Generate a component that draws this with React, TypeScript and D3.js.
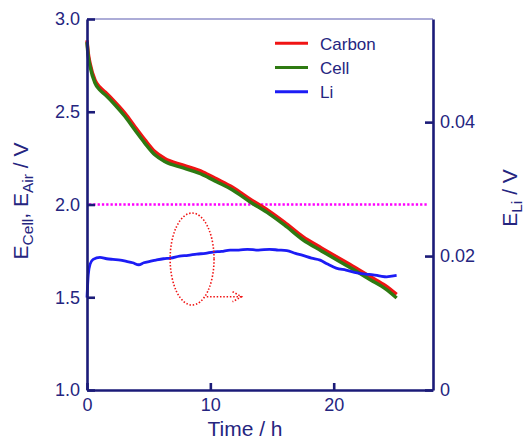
import React, { useEffect, useRef } from 'react'
import * as d3 from 'd3'

const width = 525
const height = 441
const margin = { top: 19, right: 92, bottom: 51, left: 87 }

// time axis (h) for the Carbon / Cell curves
const timeH = [0, 0.1, 0.25, 0.65, 1.0, 1.5, 2.3, 3.1, 3.9, 4.7, 5.5, 6.3, 7.8, 9.4, 10.5, 11.8, 13.2, 14.8, 16.0, 17.5, 19.0, 20.3, 21.7, 23.0, 24.2, 25.1]
const cellV = [2.875, 2.8, 2.745, 2.655, 2.62, 2.59, 2.535, 2.473, 2.4, 2.33, 2.268, 2.232, 2.197, 2.16, 2.123, 2.078, 2.015, 1.948, 1.89, 1.81, 1.75, 1.7, 1.645, 1.593, 1.545, 1.496]
const carbonV = [2.885, 2.815, 2.76, 2.67, 2.635, 2.605, 2.55, 2.49, 2.418, 2.348, 2.285, 2.248, 2.212, 2.175, 2.138, 2.093, 2.03, 1.963, 1.905, 1.826, 1.766, 1.716, 1.662, 1.61, 1.562, 1.515]

// Li electrode potential (right axis)
const liTime = [0, 0.1, 0.25, 0.5, 1.05, 1.6, 2.1, 2.7, 3.2, 3.7, 4.2, 4.6, 5.1, 5.6, 6.2, 6.8, 7.5, 8.2, 8.9, 9.6, 10.2, 10.9, 11.6, 12.3, 13.0, 13.9, 14.8, 15.5, 16.2, 16.9, 17.5, 18.2, 18.9, 19.5, 20.2, 21.0, 21.9, 22.6, 23.2, 23.8, 24.3, 24.7, 25.1]
const liV = [0.0138, 0.0172, 0.0188, 0.0195, 0.0198, 0.0196, 0.0195, 0.0194, 0.0192, 0.019, 0.0187, 0.019, 0.0192, 0.0194, 0.0196, 0.0197, 0.02, 0.0201, 0.0203, 0.0204, 0.0206, 0.0207, 0.0209, 0.0209, 0.021, 0.0209, 0.021, 0.0209, 0.0208, 0.0204, 0.0201, 0.0197, 0.0194, 0.0188, 0.0182, 0.0179, 0.0175, 0.0173, 0.0172, 0.017, 0.0169, 0.017, 0.0171]

// dotted reference level (left axis)
const refLevel = 2.0
const refSpan = [0, 27.6]

const xTicks = [0, 10, 20]
const leftTicks = [1.0, 1.5, 2.0, 2.5, 3.0]
const rightTicks = [0, 0.02, 0.04]

const legendItems = [
  { name: 'Carbon', color: '#f01414' },
  { name: 'Cell', color: '#2e7a12' },
  { name: 'Li', color: '#1c1cf5' }
]

const axisColor = '#1b1b78'
const textColor = '#25257f'
const font = 'Liberation Sans, Arial, sans-serif'

export default function App () {
  const ref = useRef<SVGSVGElement>(null)

  useEffect(() => {
    const svg = d3.select(ref.current)
    svg.selectAll('*').remove()

    const x = d3.scaleLinear().domain([0, 28.05]).range([margin.left, width - margin.right])
    const y = d3.scaleLinear().domain([1, 3]).range([height - margin.bottom, margin.top])
    const yR = d3.scaleLinear().domain([0, 0.0554]).range([height - margin.bottom, margin.top])

    // top frame line
    svg.append('line')
      .attr('x1', margin.left).attr('x2', width - margin.right)
      .attr('y1', margin.top).attr('y2', margin.top)
      .attr('stroke', '#5a5ab0').attr('stroke-width', 1.2)

    // magenta dotted level
    svg.append('line')
      .attr('x1', x(refSpan[0]) + 2).attr('x2', x(refSpan[1]))
      .attr('y1', y(refLevel)).attr('y2', y(refLevel))
      .attr('stroke', '#ff00ff').attr('stroke-width', 2.4)
      .attr('stroke-dasharray', '2.3 2')

    // curves
    const line = d3.line<number>()
      .x((_, i) => x(timeH[i]))
      .curve(d3.curveMonotoneX)

    svg.append('path')
      .attr('d', line.y(d => y(d))(carbonV))
      .attr('fill', 'none').attr('stroke', legendItems[0].color).attr('stroke-width', 3.5)

    svg.append('path')
      .attr('d', line.y(d => y(d))(cellV))
      .attr('fill', 'none').attr('stroke', legendItems[1].color).attr('stroke-width', 3.5)

    const liLine = d3.line<number>()
      .x((_, i) => x(liTime[i]))
      .y(d => yR(d))
      .curve(d3.curveMonotoneX)
    svg.append('path')
      .attr('d', liLine(liV))
      .attr('fill', 'none').attr('stroke', legendItems[2].color).attr('stroke-width', 2.8)

    // red dotted ellipse + arrow (points to right axis)
    const ec = { t: 8.52, v: 1.706, rt: 1.78, rv: 0.248 }
    svg.append('ellipse')
      .attr('cx', x(ec.t)).attr('cy', y(ec.v))
      .attr('rx', x(ec.t + ec.rt) - x(ec.t)).attr('ry', y(ec.v) - y(ec.v + ec.rv))
      .attr('fill', 'none').attr('stroke', '#f01414').attr('stroke-width', 1.6)
      .attr('stroke-dasharray', '1.5 1.8')
    const ay = y(1.503)
    svg.append('line')
      .attr('x1', x(9.71)).attr('x2', x(12.53))
      .attr('y1', ay).attr('y2', ay)
      .attr('stroke', '#f01414').attr('stroke-width', 1.6)
      .attr('stroke-dasharray', '1.5 1.8')
    svg.append('path')
      .attr('d', `M${x(11.8)},${ay - 5}L${x(12.53)},${ay}L${x(11.8)},${ay + 5}`)
      .attr('fill', 'none').attr('stroke', '#f01414').attr('stroke-width', 1.6)
      .attr('stroke-dasharray', '1.5 1.8')

    // axes
    const styleAxis = (g: any) => {
      g.select('.domain').attr('stroke', axisColor).attr('stroke-width', 2.6)
      g.selectAll('.tick line').attr('stroke', axisColor).attr('stroke-width', 2.6)
      g.selectAll('.tick text').attr('fill', textColor).attr('font-size', 18).attr('font-family', font)
    }

    svg.append('g')
      .attr('transform', `translate(0, ${height - margin.bottom})`)
      .call(d3.axisBottom(x).tickValues(xTicks).tickSize(-7).tickSizeOuter(0).tickPadding(8).tickFormat(d3.format('d')))
      .call(styleAxis)

    svg.append('g')
      .attr('transform', `translate(${margin.left}, 0)`)
      .call(d3.axisLeft(y).tickValues(leftTicks).tickSize(-8).tickSizeOuter(0).tickPadding(7).tickFormat(d3.format('.1f')))
      .call(styleAxis)

    svg.append('g')
      .attr('transform', `translate(${width - margin.right}, 0)`)
      .call(d3.axisRight(yR).tickValues(rightTicks).tickSize(-8).tickSizeOuter(0).tickPadding(7)
        .tickFormat(d => (+d === 0 ? '0' : d3.format('.2f')(+d))))
      .call(styleAxis)

    // axis titles
    svg.append('text')
      .attr('x', 245).attr('y', 436)
      .attr('text-anchor', 'middle')
      .attr('fill', textColor).attr('font-size', 21).attr('font-family', font)
      .text('Time / h')

    const left = svg.append('text')
      .attr('transform', 'translate(28, 201) rotate(-90)')
      .attr('text-anchor', 'middle')
      .attr('fill', textColor).attr('font-size', 21).attr('font-family', font)
    left.append('tspan').text('E')
    left.append('tspan').attr('font-size', 15.5).attr('dy', 5).text('Cell')
    left.append('tspan').attr('dy', -5).text(', E')
    left.append('tspan').attr('font-size', 15.5).attr('dy', 5).text('Air')
    left.append('tspan').attr('dy', -5).text(' / V')

    const right = svg.append('text')
      .attr('transform', 'translate(517, 198) rotate(-90)')
      .attr('text-anchor', 'middle')
      .attr('fill', textColor).attr('font-size', 21).attr('font-family', font)
    right.append('tspan').text('E')
    right.append('tspan').attr('font-size', 15.5).attr('dy', 5).text('Li')
    right.append('tspan').attr('dy', -5).text(' / V')

    // legend
    const legend = svg.append('g')
    legendItems.forEach((item, i) => {
      const ly = 43.3 + i * 24.2
      legend.append('line')
        .attr('x1', 275).attr('x2', 308)
        .attr('y1', ly).attr('y2', ly)
        .attr('stroke', item.color).attr('stroke-width', 3)
      legend.append('text')
        .attr('x', 320).attr('y', ly + 6.5)
        .attr('fill', textColor).attr('font-size', 17).attr('font-family', font)
        .text(item.name)
    })
  }, [])

  return (
    <svg ref={ref} width={width} height={height}
      style={{ position: 'absolute', left: 0, top: 0, background: '#fff' }} />
  )
}
